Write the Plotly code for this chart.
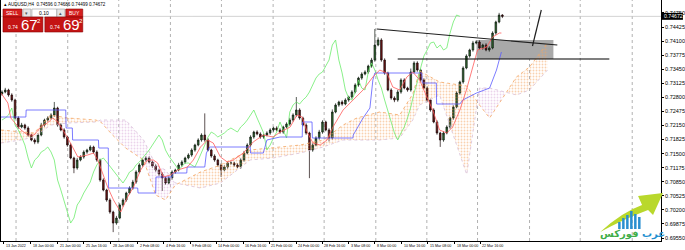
import plotly.graph_objects as go

# ---------------- data (AUDUSD, H4 chart) ----------------
closes = [
    0.72924, 0.72970, 0.72855, 0.72739, 0.72323, 0.72115, 0.72161, 0.72092, 0.71930, 0.71815,
    0.71768, 0.71930, 0.72161, 0.72277, 0.72323, 0.72392, 0.72554, 0.72161, 0.72046, 0.71884,
    0.71699, 0.71399, 0.71168, 0.71352, 0.71422, 0.71537, 0.71583, 0.71653, 0.71537, 0.71352,
    0.70890, 0.70659, 0.70428, 0.70151, 0.69896, 0.70012, 0.70312, 0.70428, 0.70590, 0.70705,
    0.70844, 0.71075, 0.71237, 0.71352, 0.71399, 0.71306, 0.71214, 0.71121, 0.71029, 0.70936,
    0.70821, 0.70936, 0.71075, 0.71121, 0.71237, 0.71306, 0.71399, 0.71468, 0.71583, 0.71699,
    0.71815, 0.71930, 0.71815, 0.71583, 0.71445, 0.71352, 0.71237, 0.71121, 0.71191, 0.71283,
    0.71283, 0.71237, 0.71191, 0.71352, 0.71514, 0.71699, 0.71884, 0.71999, 0.71953, 0.71884,
    0.71930, 0.71976, 0.72046, 0.72092, 0.72046, 0.71999, 0.72115, 0.72184, 0.72277, 0.72392,
    0.72508, 0.72323, 0.72161, 0.71976, 0.71583, 0.71699, 0.71861, 0.71999, 0.72231, 0.72046,
    0.71861, 0.72462, 0.72623, 0.72693, 0.72647, 0.72739, 0.72808, 0.72924, 0.73086, 0.73247,
    0.73340, 0.73386, 0.73525, 0.73663, 0.74010, 0.74126, 0.73663, 0.73363, 0.72970, 0.72785,
    0.72739, 0.72924, 0.73201, 0.73016, 0.72970, 0.73386, 0.73594, 0.73432, 0.73201, 0.73016,
    0.72739, 0.72508, 0.72231, 0.71976, 0.71815, 0.71976, 0.72115, 0.72323, 0.72577, 0.72901,
    0.73155, 0.73479, 0.73756, 0.73895, 0.74056, 0.74079, 0.73941, 0.74010, 0.73895, 0.73941,
    0.74287, 0.74542, 0.74703, 0.74672,
]
first_open = 0.72880
wick_up_pips = [
    4, 5, 3, 4, 3, 4, 5, 3, 4, 3,
    4, 4, 5, 3, 4, 4, 14, 3, 4, 4,
    3, 4, 3, 5, 4, 4, 3, 4, 3, 4,
    3, 4, 3, 4, 3, 5, 4, 4, 3, 4,
    5, 4, 4, 3, 4, 4, 3, 4, 3, 4,
    3, 4, 4, 3, 5, 4, 3, 4, 4, 3,
    4, 4, 50, 4, 3, 4, 3, 4, 4, 3,
    4, 3, 4, 4, 5, 4, 4, 3, 4, 4,
    3, 4, 4, 3, 4, 4, 3, 4, 5, 4,
    30, 4, 3, 4, 3, 4, 4, 5, 4, 3,
    4, 6, 4, 3, 4, 4, 3, 4, 4, 3,
    4, 4, 3, 5, 37, 6, 4, 4, 3, 4,
    4, 5, 4, 4, 3, 8, 4, 4, 3, 4,
    4, 3, 4, 4, 3, 4, 4, 3, 4, 4,
    3, 4, 4, 3, 5, 4, 4, 3, 4, 4,
    4, 3, 5, 2,
]
wick_dn_pips = [
    4, 3, 4, 4, 3, 4, 3, 4, 4, 3,
    5, 4, 3, 4, 4, 3, 4, 4, 3, 4,
    4, 3, 12, 4, 3, 4, 4, 3, 4, 4,
    4, 3, 4, 4, 21, 4, 3, 4, 4, 3,
    4, 4, 3, 4, 4, 3, 4, 4, 5, 30,
    4, 3, 4, 4, 3, 4, 4, 3, 4, 4,
    3, 4, 4, 3, 4, 4, 4, 16, 3, 4,
    4, 4, 3, 4, 4, 3, 4, 4, 3, 4,
    4, 3, 4, 4, 3, 4, 4, 3, 4, 4,
    4, 4, 3, 4, 65, 4, 3, 4, 4, 3,
    8, 4, 3, 4, 4, 3, 4, 4, 3, 4,
    4, 3, 4, 4, 4, 3, 4, 4, 3, 4,
    5, 4, 4, 3, 4, 4, 3, 4, 4, 3,
    4, 4, 3, 4, 16, 4, 3, 4, 4, 3,
    4, 4, 3, 4, 4, 3, 4, 4, 3, 4,
    3, 4, 3, 4,
]

# Tenkan-sen (red)
tenkan_x = [-0.3, 1.8, 2.7, 5.8, 7.9, 9.8, 11.9, 14.3, 15.5, 17.1, 20.1, 23.2, 26.2, 28.0, 29.3,
            32.3, 34.1, 36.3, 38.4, 40.2, 42.4, 44.5, 46.3, 47.6, 49.4, 51.5, 53.7, 56.7, 58.5,
            60.7, 62.8, 64.6, 66.8, 68.9, 70.7, 73.8, 76.8, 79.9, 82.9, 85.1, 88.1, 90.2, 91.8,
            93.3, 95.1, 97.3, 99.4, 101.2, 104.3, 107.3, 110.4, 113.4, 115.5, 117.7, 119.5, 121.6,
            123.8, 125.6, 127.7, 129.9, 131.7, 133.8, 136.0, 137.8, 140.0, 142.0, 143.6, 145.4,
            148.2, 150.0, 152.1, 152.7]
tenkan_v = [0.72901, 0.72670, 0.72323, 0.72046, 0.71930, 0.71930, 0.72115, 0.72231, 0.72323, 0.72231,
            0.71861, 0.71422, 0.71468, 0.71514, 0.71352, 0.70728, 0.70428, 0.70151, 0.70497, 0.70728,
            0.71121, 0.71352, 0.71352, 0.71283, 0.70960, 0.71006, 0.71121, 0.71191, 0.71352, 0.71653,
            0.71815, 0.71745, 0.71422, 0.71306, 0.71352, 0.71514, 0.71768, 0.71930, 0.71884, 0.71999,
            0.72115, 0.72392, 0.72346, 0.71999, 0.71745, 0.71699, 0.71815, 0.72115, 0.72508, 0.72739,
            0.72970, 0.73271, 0.73432, 0.73363, 0.73039, 0.72970, 0.73271, 0.73386, 0.73201, 0.72808,
            0.72508, 0.72046, 0.71976, 0.72115, 0.72508, 0.72970, 0.73432, 0.73895, 0.73964, 0.74195,
            0.74287, 0.74287]

# Kijun-sen (blue)
kijun_x = [-0.3, 7.3, 7.4, 19.5, 19.6, 21.5, 21.6, 29.5, 29.6, 32.5, 32.6, 41.5, 41.6, 47.0, 47.1,
           52.0, 52.1, 56.5, 56.6, 62.0, 62.5, 63.5, 75.9, 76.0, 79.9, 81.0, 85.0, 91.8, 91.9, 94.8,
           94.9, 107.3, 107.4, 110.4, 112.5, 113.4, 114.0, 128.4, 128.5, 132.8, 132.9, 140.0, 140.9,
           145.1, 149.1, 151.2, 152.7]
kijun_v = [0.72346, 0.72346, 0.72508, 0.72508, 0.72092, 0.72092, 0.71815, 0.71815, 0.71630, 0.71630,
           0.70705, 0.70705, 0.70590, 0.70590, 0.70960, 0.70960, 0.71052, 0.71052, 0.71191, 0.71191,
           0.71514, 0.71653, 0.71653, 0.71514, 0.71514, 0.71815, 0.71884, 0.71884, 0.72231, 0.72231,
           0.71861, 0.71861, 0.71930, 0.72323, 0.72554, 0.73201, 0.73363, 0.73363, 0.73132, 0.73132,
           0.72647, 0.72647, 0.72739, 0.72901, 0.73016, 0.73432, 0.73848]

# Senkou spans (cloud), already displaced forward
cloud_x = [-0.3, 5.8, 9.8, 14.9, 20.1, 28.7, 30.2, 33.8, 37.8, 43.3, 47.0, 50.0, 53.0, 60.7, 66.8,
           75.9, 82.9, 91.2, 98.2, 104.3, 108.5, 115.5, 121.6, 125.6, 127.7, 133.8, 142.1, 146.0,
           149.1, 153.7, 157.3, 161.3, 166.8]
span_a = [0.72046, 0.72000, 0.71976, 0.72392, 0.72323, 0.72277, 0.72231, 0.71930, 0.71630, 0.71352,
          0.70544, 0.70428, 0.70775, 0.71075, 0.71237, 0.71584, 0.71630, 0.71699, 0.71815, 0.72161,
          0.72323, 0.72462, 0.72392, 0.72878, 0.73409, 0.73155, 0.73063, 0.72624, 0.72323, 0.72855,
          0.73271, 0.73502, 0.74056]
span_b = [0.71745, 0.71815, 0.71884, 0.72161, 0.72208, 0.72231, 0.72277, 0.72277, 0.72277, 0.71815,
          0.71237, 0.71121, 0.70821, 0.70705, 0.70821, 0.71353, 0.71399, 0.71514, 0.71653, 0.71815,
          0.71815, 0.71815, 0.71861, 0.72277, 0.72624, 0.72855, 0.71016, 0.73016, 0.73016, 0.72924,
          0.72855, 0.72970, 0.73432]

# date labels (bar index, text)
date_idx = [0.6, 8.8, 17.1, 25.0, 33.2, 41.5, 49.4, 57.6, 65.5, 73.8, 81.7, 89.9, 97.9, 106.1,
            114.0, 122.3, 130.2, 138.4, 146.3]
date_txt = ["13 Jan 2022", "18 Jan 00:00", "21 Jan 00:00", "25 Jan 16:00", "28 Jan 08:00",
            "2 Feb 08:00", "4 Feb 16:00", "9 Feb 08:00", "14 Feb 00:00", "16 Feb 16:00",
            "21 Feb 00:00", "24 Feb 00:00", "28 Feb 16:00", "3 Mar 08:00", "8 Mar 00:00",
            "10 Mar 16:00", "15 Mar 08:00", "18 Mar 00:00", "22 Mar 16:00"]
grid_idx = [4.3, 20.1, 35.7, 51.5, 67.1, 82.9, 98.5, 114.3, 129.9, 145.4, 161.3, 176.8, 192.7]
price_ticks = [0.69550, 0.69875, 0.70200, 0.70525, 0.70850, 0.71175, 0.71500, 0.71825, 0.72150,
               0.72475, 0.72800, 0.73125, 0.73450, 0.73775, 0.74100, 0.74425, 0.74750]

# user drawn objects
trend_x = [114.6, 169.8]
trend_y = [0.74380, 0.74010]
level_x = [121.0, 185.7]
level_y = 0.73687
zone_x = [145.1, 168.6]
zone_y = [0.73687, 0.74126]
arrow_x = [162.2, 164.9]
arrow_y = [0.73987, 0.74819]

title_txt = "AUDUSD,H4  0.74596 0.74686 0.74499 0.74672"

# ---------------- figure ----------------
W, H = 685, 250
ML, MR, MT, MB = 1, 22, 0, 9
PW, PH = W - ML - MR, H - MT - MB
X_RANGE = [-0.3, 201.5]
Y_RANGE = [0.69481, 0.75050]

def xp(px):
    return (px - ML) / PW

def yp(py):
    return 1 - (py - MT) / PH

opens = [first_open] + closes[:-1]
pip = 0.0001
highs = [max(o, c) + w * pip for o, c, w in zip(opens, closes, wick_up_pips)]
lows = [min(o, c) - w * pip for o, c, w in zip(opens, closes, wick_dn_pips)]
bars = list(range(len(closes)))
CHIKOU_SHIFT = 13

fig = go.Figure()

def split_cloud(xs, a, b):
    parts = []
    cur = {"up": a[0] >= b[0], "x": [xs[0]], "a": [a[0]], "b": [b[0]]}
    for k in range(1, len(xs)):
        up = a[k] >= b[k]
        if up != cur["up"]:
            d0 = a[k - 1] - b[k - 1]
            d1 = a[k] - b[k]
            t = d0 / (d0 - d1)
            xc = xs[k - 1] + t * (xs[k] - xs[k - 1])
            yc = a[k - 1] + t * (a[k] - a[k - 1])
            cur["x"].append(xc); cur["a"].append(yc); cur["b"].append(yc)
            parts.append(cur)
            cur = {"up": up, "x": [xc], "a": [yc], "b": [yc]}
        cur["x"].append(xs[k]); cur["a"].append(a[k]); cur["b"].append(b[k])
    parts.append(cur)
    return parts

for part in split_cloud(cloud_x, span_a, span_b):
    col = "#f4a460" if part["up"] else "#d8a8d8"
    fig.add_trace(go.Scatter(
        x=part["x"] + part["x"][::-1], y=part["a"] + part["b"][::-1],
        mode="lines", line=dict(width=0), fill="toself",
        fillcolor="rgba(0,0,0,0)",
        fillpattern=dict(shape=".", fgcolor=col, bgcolor="rgba(0,0,0,0)", size=3, solidity=0.3),
        hoverinfo="skip", showlegend=False))

fig.add_trace(go.Scatter(x=cloud_x, y=span_a, mode="lines",
                         line=dict(color="#f4a460", width=0.8, dash="dot"), showlegend=False))
fig.add_trace(go.Scatter(x=cloud_x, y=span_b, mode="lines",
                         line=dict(color="#d8bfd8", width=0.8, dash="dot"), showlegend=False))

fig.add_trace(go.Scatter(x=bars[:-CHIKOU_SHIFT], y=closes[CHIKOU_SHIFT:], mode="lines",
                         line=dict(color="#6cec6c", width=0.8), showlegend=False))

fig.add_trace(go.Candlestick(
    x=bars, open=opens, high=highs, low=lows, close=closes,
    increasing=dict(line=dict(color="#101810", width=0.7), fillcolor="#2f6a2f"),
    decreasing=dict(line=dict(color="#180808", width=0.7), fillcolor="#6e1414"),
    whiskerwidth=0, showlegend=False))

fig.add_trace(go.Scatter(x=kijun_x, y=kijun_v, mode="lines",
                         line=dict(color="#5a5aff", width=0.8), showlegend=False))
fig.add_trace(go.Scatter(x=tenkan_x, y=tenkan_v, mode="lines",
                         line=dict(color="#ff5a5a", width=0.8), showlegend=False))

fig.add_trace(go.Scatter(x=trend_x, y=trend_y, mode="lines", line=dict(color="#202020", width=1.2),
                         showlegend=False))
fig.add_trace(go.Scatter(x=level_x, y=[level_y, level_y], mode="lines",
                         line=dict(color="#000000", width=1.2), showlegend=False))
fig.add_trace(go.Scatter(x=arrow_x, y=arrow_y, mode="lines", line=dict(color="#202020", width=1.2),
                         showlegend=False))

shapes = []
for g in grid_idx:
    shapes.append(dict(type="line", xref="x", yref="paper", x0=g, x1=g, y0=0, y1=1,
                       line=dict(color="#909090", width=0.7, dash="dot"), layer="below"))
shapes.append(dict(type="rect", xref="x", yref="y", x0=zone_x[0], x1=zone_x[1],
                   y0=zone_y[0], y1=zone_y[1], fillcolor="#a9a9a9", line=dict(width=0),
                   layer="below"))
shapes.append(dict(type="line", xref="paper", yref="y", x0=0, x1=1, y0=closes[-1], y1=closes[-1],
                   line=dict(color="#c8c8c8", width=0.8), layer="below"))
shapes.append(dict(type="rect", xref="paper", yref="y", x0=1.0, x1=xp(685), y0=closes[-1] - 0.0008,
                   y1=closes[-1] + 0.0008, fillcolor="#000000", line=dict(width=0)))

def box(x0, y0, x1, y1, fill, line="#8a0000"):
    shapes.append(dict(type="rect", xref="paper", yref="paper", x0=xp(x0), x1=xp(x1),
                       y0=yp(y1), y1=yp(y0), fillcolor=fill, line=dict(color=line, width=0.6)))

box(3, 9, 22, 17, "#d41e1e")
box(23, 9, 31, 17, "#e6e6e6", "#9a9a9a")
box(32, 9, 57, 17, "#ffffff", "#9a9a9a")
box(57, 9, 65, 17, "#e6e6e6", "#9a9a9a")
box(66, 9, 83, 17, "#d41e1e")
box(3, 17, 43, 32, "#c41414")
box(45, 17, 83, 32, "#c41414")

# logo (arrow + bars)
shapes.append(dict(type="path", xref="paper", yref="paper",
                   path="M {} {} Q {} {} {} {} L {} {} L {} {} L {} {} L {} {} Q {} {} {} {} Z".format(
                       xp(602), yp(232), xp(624), yp(212), xp(644), yp(205),
                       xp(640), yp(196), xp(665), yp(193), xp(655), yp(215), xp(650), yp(210),
                       xp(626), yp(219), xp(602), yp(232)),
                   fillcolor="#b9d82c", line=dict(width=0)))
for bx, bt in [(620, 222), (624, 218), (628, 215), (632, 211), (636, 214), (640, 217)]:
    shapes.append(dict(type="rect", xref="paper", yref="paper", x0=xp(bx), x1=xp(bx + 2.5),
                       y0=yp(229), y1=yp(bt), fillcolor="#2a8fd0", line=dict(width=0)))

annotations = []
for xi, t in zip(date_idx, date_txt):
    annotations.append(dict(x=xi, y=0, xref="x", yref="paper", text=t, showarrow=False,
                            xanchor="left", yanchor="top", yshift=-1,
                            font=dict(family="Liberation Sans", size=3.6, color="#000000")))
annotations.append(dict(x=1.002, y=closes[-1], xref="paper", yref="y", text="{:.5f}".format(closes[-1]),
                        showarrow=False, xanchor="left", yanchor="middle",
                        font=dict(family="Liberation Sans", size=5.2, color="#ffffff")))
annotations.append(dict(x=xp(2), y=yp(4.5), xref="paper", yref="paper",
                        text="\u25b4 " + title_txt, showarrow=False, xanchor="left", yanchor="middle",
                        font=dict(family="Liberation Sans", size=4.5, color="#000000")))

def label(px, py, t, size, color="#ffffff", anchor="center"):
    annotations.append(dict(x=xp(px), y=yp(py), xref="paper", yref="paper", text=t, showarrow=False,
                            xanchor=anchor, yanchor="middle",
                            font=dict(family="Liberation Sans", size=size, color=color)))

label(12.5, 13, "SELL", 5)
label(27, 13, "\u25be", 5, "#555555")
label(44.5, 13, "0.10", 5, "#000000")
label(61, 13, "\u25b4", 5, "#555555")
label(74.5, 13, "BUY", 5)
label(6, 27, "0.74", 5, anchor="left")
label(19, 25, "67", 15, anchor="left")
label(35, 20.5, "2", 6, anchor="left")
label(48, 27, "0.74", 5, anchor="left")
label(61, 25, "69", 15, anchor="left")
label(77, 20.5, "2", 6, anchor="left")
annotations.append(dict(x=xp(634), y=yp(234), xref="paper", yref="paper",
                        text="<b><span style='color:#1e8fd0'>\u0639\u0631\u0628</span> "
                             "<span style='color:#3fae49'>\u0641\u0648\u0631\u0643\u0633</span></b>",
                        showarrow=False, xanchor="center", yanchor="middle",
                        font=dict(family="DejaVu Sans", size=10)))

fig.update_layout(
    width=W, height=H, margin=dict(l=ML, r=MR, t=MT, b=MB),
    paper_bgcolor="#ffffff", plot_bgcolor="#ffffff",
    shapes=shapes, annotations=annotations, showlegend=False,
    xaxis=dict(range=X_RANGE, showgrid=False, zeroline=False, showline=True, linecolor="#000000",
               linewidth=1, tickvals=date_idx, ticks="outside", ticklen=2, tickcolor="#000000",
               showticklabels=False, rangeslider=dict(visible=False), fixedrange=True),
    yaxis=dict(range=Y_RANGE, side="right", showgrid=False, zeroline=False, showline=True,
               mirror=True, linecolor="#000000", linewidth=1, tickvals=price_ticks,
               ticktext=["{:.5f}".format(v) for v in price_ticks], ticks="outside", ticklen=2,
               tickcolor="#000000", tickfont=dict(family="Liberation Sans", size=5.5, color="#000000"),
               fixedrange=True),
)

fig.write_html("out.html")
